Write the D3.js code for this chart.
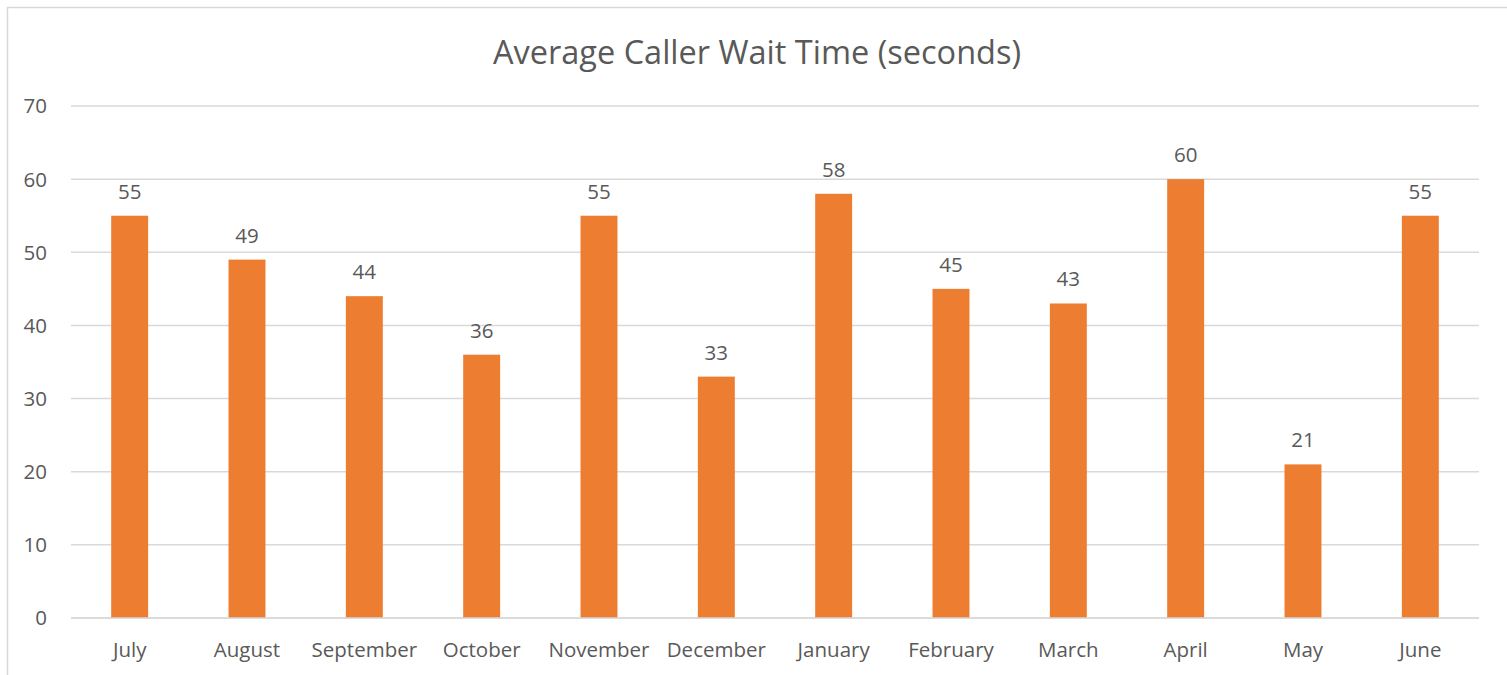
<!DOCTYPE html>
<html>
<head>
<meta charset="utf-8">
<script src="https://cdn.jsdelivr.net/npm/d3@7"></script>
<style>
  body { margin: 0; background: #fff; }
  svg text { font-family: "Open Sans", "Noto Sans", sans-serif; fill: #595959; }
</style>
</head>
<body>
<div id="chart"></div>
<script>
let months = ["July", "August", "September", "October", "November", "December",
  "January", "February", "March", "April", "May", "June"];
let wait_times = [55, 49, 44, 36, 55, 33, 58, 45, 43, 60, 21, 55];
let y_ticks = [0, 10, 20, 30, 40, 50, 60, 70];

let chart_width = 1507;
let chart_height = 675;
let plot = { left: 71, right: 1479, top: 106, bottom: 618 };

let svg = d3.select("#chart").append("svg")
  .attr("width", chart_width)
  .attr("height", chart_height);

// chart frame
svg.append("rect")
  .attr("x", 7.5).attr("y", 7.5)
  .attr("width", chart_width + 10).attr("height", chart_height + 10)
  .attr("fill", "none")
  .attr("stroke", "#d9d9d9")
  .attr("stroke-width", 1.5);

let x_scale = d3.scaleBand()
  .domain(months)
  .range([plot.left, plot.right])
  .paddingInner(0.685)
  .paddingOuter(0.3425);

let y_scale = d3.scaleLinear()
  .domain([0, 70])
  .range([plot.bottom, plot.top]);

// gridlines
svg.append("g").selectAll("line")
  .data(y_ticks)
  .enter().append("line")
  .attr("x1", plot.left).attr("x2", plot.right)
  .attr("y1", d => y_scale(d)).attr("y2", d => y_scale(d))
  .attr("stroke", "#d9d9d9")
  .attr("stroke-width", 1.5);

// y tick labels
svg.append("g").selectAll("text")
  .data(y_ticks)
  .enter().append("text")
  .attr("x", 47)
  .attr("y", d => y_scale(d))
  .attr("dy", "0.36em")
  .attr("text-anchor", "end")
  .style("font-size", "20.5px")
  .text(d => d);

// bars
svg.append("g").selectAll("rect")
  .data(wait_times)
  .enter().append("rect")
  .attr("x", (d, i) => x_scale(months[i]))
  .attr("y", d => y_scale(d))
  .attr("width", x_scale.bandwidth())
  .attr("height", d => y_scale(0) - y_scale(d))
  .attr("fill", "#ed7d31");

// zero line on top of bars
svg.append("line")
  .attr("x1", plot.left).attr("x2", plot.right)
  .attr("y1", y_scale(0)).attr("y2", y_scale(0))
  .attr("stroke", "#d9d9d9")
  .attr("stroke-width", 1.5);

// value labels
svg.append("g").selectAll("text")
  .data(wait_times)
  .enter().append("text")
  .attr("x", (d, i) => x_scale(months[i]) + x_scale.bandwidth() / 2)
  .attr("y", d => y_scale(d) - 17)
  .attr("text-anchor", "middle")
  .style("font-size", "20.5px")
  .text(d => d);

// category labels
svg.append("g").selectAll("text")
  .data(months)
  .enter().append("text")
  .attr("x", d => x_scale(d) + x_scale.bandwidth() / 2)
  .attr("y", 657)
  .attr("text-anchor", "middle")
  .style("font-size", "20.5px")
  .text(d => d);

// title
svg.append("text")
  .attr("x", 757)
  .attr("y", 64)
  .attr("text-anchor", "middle")
  .style("font-size", "32.5px")
  .text("Average Caller Wait Time (seconds)");
</script>
</body>
</html>
